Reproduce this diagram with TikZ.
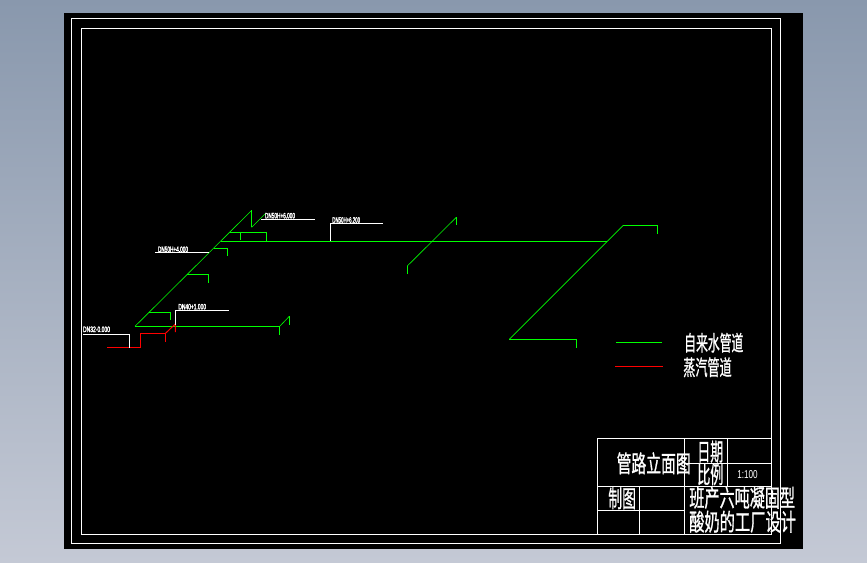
\documentclass[tikz,border=0pt]{standalone}
\usepackage{graphicx}
\usepackage{fontspec}
\setmainfont{Liberation Sans}
\newfontfamily\cjkf[FakeBold=1.2]{Noto Sans CJK SC}
\newfontfamily\latf[FakeBold=3]{Liberation Sans}
\definecolor{bgtop}{RGB}{137,152,173}
\definecolor{bgbot}{RGB}{196,201,213}
\definecolor{pipegreen}{RGB}{0,255,0}
\definecolor{pipered}{RGB}{255,0,0}
\newcommand{\fitcjk}[3]{\resizebox{#1pt}{#2pt}{\cjkf #3}}
\newcommand{\fitlat}[3]{\resizebox{#1pt}{#2pt}{\latf #3}}
\newcommand{\fitplain}[3]{\resizebox{#1pt}{#2pt}{#3}}
\tikzset{
  water/.style={draw=pipegreen,line width=0.85pt},
  waterdiag/.style={draw=pipegreen,line width=0.6pt},
  steam/.style={draw=pipered,line width=0.95pt},
  frameline/.style={draw=white,line width=0.85pt},
  leader/.style={draw=white,line width=0.85pt},
  label/.style={text=white,inner sep=0pt,outer sep=0pt,anchor=center}
}
\begin{document}
\begin{tikzpicture}[x=1pt,y=-1pt]
\useasboundingbox (0,0) rectangle (867,562);
\shade[top color=bgtop,bottom color=bgbot,shading angle=0] (0,0) rectangle (867,562);
\fill[black] (64,13) rectangle (803,548.5);
% frames
\draw[frameline] (71.3,18.3) rectangle (780.7,543.3);
\draw[frameline] (81.3,28.7) rectangle (771,534.3);
% title block
\draw[frameline] (597.3,438.7) rectangle (771,534.3);
\draw[frameline] (684.7,438.7) -- (684.7,534.3);
\draw[frameline] (727.7,438.7) -- (727.7,486);
\draw[frameline] (684.7,463.3) -- (771,463.3);
\draw[frameline] (597.3,486) -- (771,486);
\draw[frameline] (597.3,510.3) -- (684.7,510.3);
\draw[frameline] (639.3,486) -- (639.3,534.3);
% water pipes left
\draw[waterdiag] (251.7,210.3) -- (135,326.3);
\draw[water] (251.7,227.3) -- (251.7,210.3);
\draw[water] (135,326.3) -- (279.7,326.3) -- (279.7,334.7);
\draw[waterdiag] (279.7,326.3) -- (289.3,316.3);
\draw[water] (289.3,316.3) -- (289.3,324.7);
\draw[waterdiag] (251.7,227.3) -- (265.7,213.3);
\draw[water] (229.7,232.3) -- (266.7,232.3) -- (266.7,241.3);
\draw[water] (240.3,232.3) -- (240.3,240);
\draw[water] (220.7,241.3) -- (607.3,241.3);
\draw[water] (214,248.3) -- (227.3,248.3) -- (227.3,255.7);
\draw[water] (187.3,274.3) -- (208.3,274.3) -- (208.3,282.7);
\draw[water] (149.3,312.3) -- (170.3,312.3) -- (170.3,320);
% water pipes middle and right
\draw[water] (407.3,274) -- (407.3,266);
\draw[waterdiag] (407.3,266) -- (456.3,217.3);
\draw[water] (456.3,217.3) -- (456.3,225);
\draw[water] (576.3,347.7) -- (576.3,339.3) -- (509.3,339.3);
\draw[waterdiag] (509.3,339.3) -- (623.3,225.3);
\draw[water] (623.3,225.3) -- (657.3,225.3) -- (657.3,233.7);
% steam
\draw[steam] (107,347.3) -- (140.3,347.3) -- (140.3,333.3) -- (165.5,333.3) -- (165.5,342);
\draw[steam] (165.5,333.3) -- (175.3,324) -- (175.3,332);
% leaders
\draw[leader] (83,334.3) -- (129.3,334.3) -- (129.3,347.7);
\draw[leader] (175.3,325) -- (175.3,310.3) -- (228.7,310.3);
\draw[leader] (155,252.3) -- (209.3,252.3);
\draw[leader] (261,219.3) -- (314.7,219.3);
\draw[leader] (330,241) -- (330,223.3) -- (382.7,223.3);
% small labels
\node[label] (lblA) at (96.5,329.3) {\fitlat{27}{5.5}{DN32-0.000}};
\node[label] (lblB) at (192.2,306.7) {\fitlat{27.7}{5.5}{DN40+1.000}};
\node[label] (lblC) at (173,249.3) {\fitlat{30}{5.5}{DN50H+4.000}};
\node[label] (lblD) at (280,215.7) {\fitlat{30}{5.5}{DN50H+6.000}};
\node[label] (lblE) at (346.2,220) {\fitlat{27.7}{5.5}{DN50H+6.200}};
% legend
\draw[water] (616,342.3) -- (662,342.3);
\draw[steam] (615,366.3) -- (663,366.3);
\node[label] (legA) at (713.8,342.7) {\fitcjk{59}{18}{自来水管道}};
\node[label] (legB) at (707.5,367.3) {\fitcjk{48.4}{18}{蒸汽管道}};
% title text
\node[label] (t1) at (653.7,463.3) {\fitcjk{74}{20}{管路立面图}};
\node[label] (t2) at (710.3,451.7) {\fitcjk{26}{20}{日期}};
\node[label] (t3) at (710.3,474.3) {\fitcjk{26}{20}{比例}};
\node[label] (t4) at (622.2,498.3) {\fitcjk{27.7}{20}{制图}};
\node[label] (t5) at (742.2,497.7) {\fitcjk{105.7}{20}{班产六吨凝固型}};
\node[label] (t6) at (742.6,521.7) {\fitcjk{106.7}{20}{酸奶的工厂设计}};
\node[label] (t7) at (747.5,475) {\fitplain{20.4}{8}{1:100}};
\end{tikzpicture}
\end{document}
